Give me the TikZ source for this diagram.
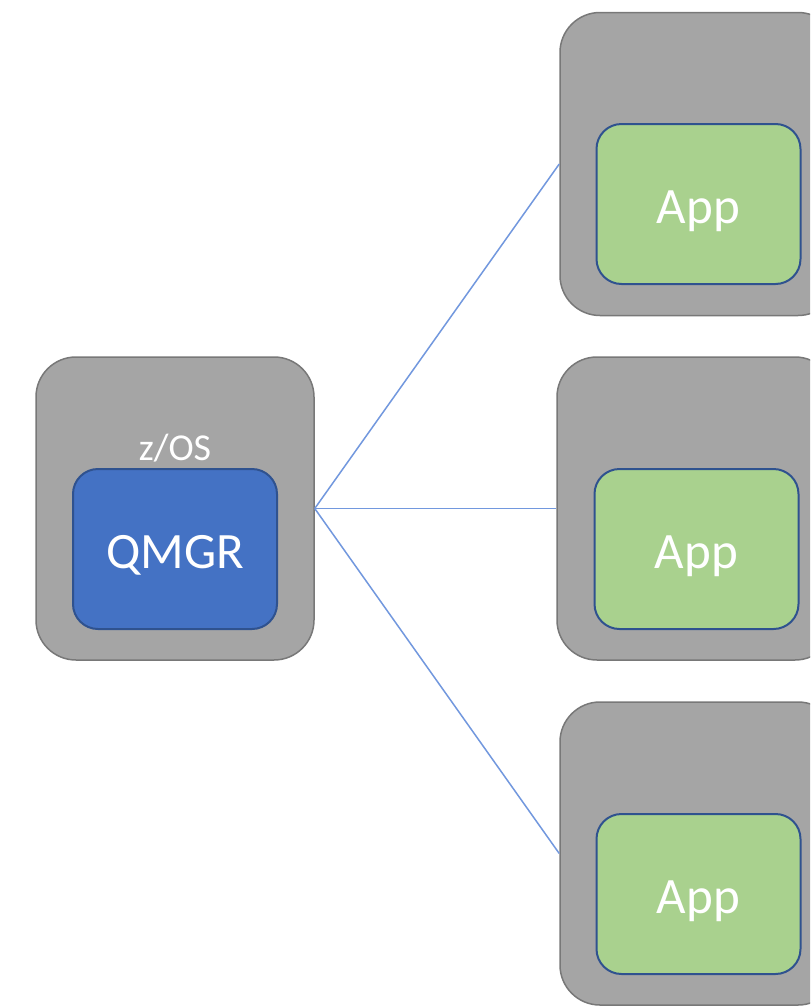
\documentclass[tikz,border=0pt]{standalone}
\usepackage{fontspec}
\setmainfont{Carlito}

\definecolor{hostFill}{RGB}{165,165,165}
\definecolor{hostBorder}{RGB}{120,120,120}
\definecolor{qmgrFill}{RGB}{68,114,196}
\definecolor{boxBorder}{RGB}{47,82,143}
\definecolor{appFill}{RGB}{169,209,142}
\definecolor{linkLine}{RGB}{114,152,222}

\begin{document}
\begin{tikzpicture}[x=.5pt,y=-.5pt,
      host/.style={draw=hostBorder, fill=hostFill, line width=.75pt,
        rounded corners=20pt, minimum width=139pt, minimum height=151.5pt,
        inner sep=0pt},
      inbox/.style={draw=boxBorder, line width=1pt, rounded corners=12.5pt,
        minimum width=102pt, minimum height=80pt, inner sep=0pt,
        text height=19.4pt, text depth=0pt,
        text=white, font=\fontsize{25.5}{28}\selectfont},
      qmgr/.style={inbox, fill=qmgrFill},
      app/.style={inbox, fill=appFill},
      oslabel/.style={text=white, font=\fontsize{19}{21}\selectfont},
      link/.style={draw=linkLine, line width=.75pt}]
      \useasboundingbox (0,0) rectangle (810,1007);
      \clip (0,0) rectangle (810,1007);
      \fill[white] (0,0) rectangle (810,1007);

      % mainframe side
      \node[host] (zos) at (175,508.5) {};
      \node[oslabel] (zosLabel) at (175,448) {z/OS};
      \node[qmgr] (qmgr) at (175,549) {QMGR};

      % client hosts
      \node[host] (hostTop) at (699,164) {};
      \node[app] (appTop) at (698.5,204) {App};
      \node[host] (hostMid) at (696,508.5) {};
      \node[app] (appMid) at (696.5,549) {App};
      \node[host] (hostBot) at (699,853.5) {};
      \node[app] (appBot) at (698.5,894) {App};

      \draw[link] (zos.east) -- (hostTop.west);
      \draw[link] (zos.east) -- (hostMid.west);
      \draw[link] (zos.east) -- (hostBot.west);
    \end{tikzpicture}
\end{document}
